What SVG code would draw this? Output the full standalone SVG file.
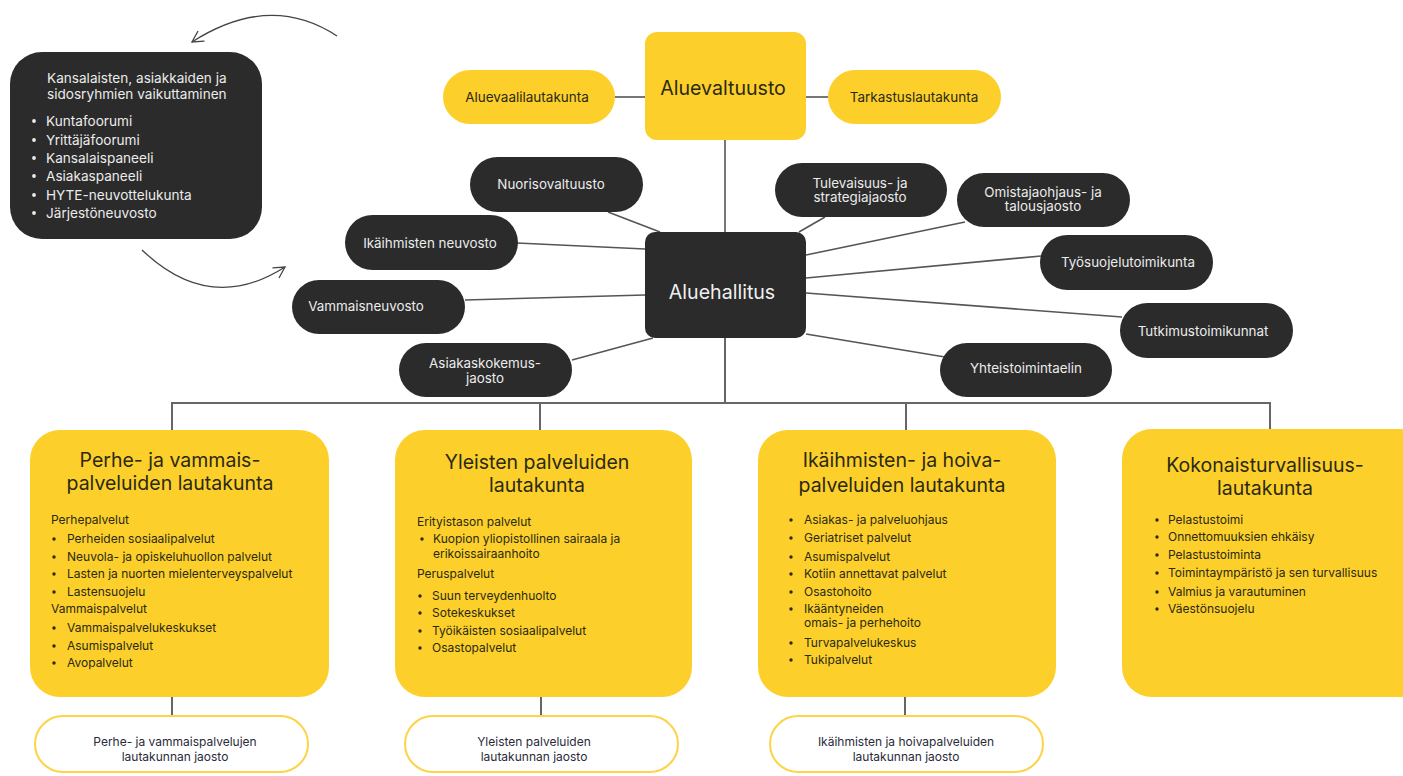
<svg xmlns="http://www.w3.org/2000/svg" width="1403" height="776" viewBox="0 0 1403 776">
<style>
.bg{fill:#ffffff}
.dark{fill:#2b2b2b}
.yel{fill:#fdcf2a}
.outl{fill:#ffffff;stroke:#fdd34a;stroke-width:2}
.lt{font-family:Inter,"Noto Sans","Liberation Sans",sans-serif;fill:#ececec;font-size:13.6px}
.ltc{font-family:Inter,"Noto Sans","Liberation Sans",sans-serif;fill:#ececec;font-size:13.4px;text-anchor:middle}
.dk{font-family:Inter,"Noto Sans","Liberation Sans",sans-serif;fill:#2a2a14;font-size:13.5px;text-anchor:middle}
.big{font-family:Inter,"Noto Sans","Liberation Sans",sans-serif;font-size:19.6px;text-anchor:middle}
.ttl{font-family:Inter,"Noto Sans","Liberation Sans",sans-serif;fill:#2a2a14;font-size:19.5px;text-anchor:middle}
.body{font-family:Inter,"Noto Sans","Liberation Sans",sans-serif;fill:#2a2a14;font-size:12px}
.sm{font-family:Inter,"Noto Sans","Liberation Sans",sans-serif;fill:#2a2a3a;font-size:12px;text-anchor:middle}
.ln{stroke:#555555;stroke-width:1.6;fill:none}
.bus{stroke:#666666;stroke-width:2;fill:none}
.arc{stroke:#444444;stroke-width:1.3;fill:none}
</style>
<defs>
<marker id="chev" viewBox="0 0 14 14" refX="12" refY="7" markerWidth="14" markerHeight="14" markerUnits="userSpaceOnUse" orient="auto">
<path d="M1,1 L12,7 L1,13" fill="none" stroke="#444444" stroke-width="1.3"/>
</marker>
</defs>
<rect class="bg" x="0" y="0" width="1403" height="776"/>

<g id="connectors">
<path class="arc" d="M337,36 Q270,-8 192,42" marker-end="url(#chev)"/>
<path class="arc" d="M142,250 Q210,315 285,267" marker-end="url(#chev)"/>
<line class="ln" x1="615" y1="97" x2="645" y2="97"/>
<line class="ln" x1="806" y1="97" x2="828" y2="97"/>
<line class="ln" x1="725" y1="140" x2="725" y2="232"/>
<line class="ln" x1="608" y1="212" x2="660" y2="232"/>
<line class="ln" x1="517" y1="243" x2="645" y2="249"/>
<line class="ln" x1="465" y1="300" x2="645" y2="295"/>
<line class="ln" x1="572" y1="360" x2="653" y2="338"/>
<line class="ln" x1="825" y1="217" x2="799" y2="232"/>
<line class="ln" x1="965" y1="222" x2="806" y2="255"/>
<line class="ln" x1="1041" y1="256" x2="806" y2="278"/>
<line class="ln" x1="1122" y1="317" x2="806" y2="293"/>
<line class="ln" x1="945" y1="357" x2="806" y2="334"/>
<line class="bus" x1="725" y1="338" x2="725" y2="403"/>
<path class="bus" d="M172,430 V403 H1270 V430"/>
<line class="bus" x1="540" y1="403" x2="540" y2="430"/>
<line class="bus" x1="906" y1="403" x2="906" y2="430"/>
<line class="bus" x1="172" y1="697" x2="172" y2="716"/>
<line class="bus" x1="541" y1="697" x2="541" y2="716"/>
<line class="bus" x1="905" y1="697" x2="905" y2="716"/>
</g>

<g id="vaikuttaminen">
<rect class="dark" x="10" y="52" width="252" height="187" rx="32"/>
<text class="lt" x="47" y="83">Kansalaisten, asiakkaiden ja</text>
<text class="lt" x="47" y="99">sidosryhmien vaikuttaminen</text>
<circle cx="34" cy="121" r="1.9" fill="#ececec"/><text class="lt" x="46" y="126">Kuntafoorumi</text>
<circle cx="34" cy="140" r="1.9" fill="#ececec"/><text class="lt" x="46" y="145">Yrittäjäfoorumi</text>
<circle cx="34" cy="158" r="1.9" fill="#ececec"/><text class="lt" x="46" y="163">Kansalaispaneeli</text>
<circle cx="34" cy="176" r="1.9" fill="#ececec"/><text class="lt" x="46" y="181">Asiakaspaneeli</text>
<circle cx="34" cy="195" r="1.9" fill="#ececec"/><text class="lt" x="46" y="200">HYTE-neuvottelukunta</text>
<circle cx="34" cy="213" r="1.9" fill="#ececec"/><text class="lt" x="46" y="218">Järjestöneuvosto</text>
</g>

<g id="aluevaltuusto">
<rect class="yel" x="645" y="32" width="161" height="108" rx="12"/>
<text class="big" x="723" y="95" fill="#2a2a14">Aluevaltuusto</text>
</g>
<g id="aluevaalilautakunta">
<rect class="yel" x="443" y="70" width="172" height="54" rx="27"/>
<text class="dk" x="527" y="102">Aluevaalilautakunta</text>
</g>
<g id="tarkastuslautakunta">
<rect class="yel" x="828" y="70" width="173" height="54" rx="27"/>
<text class="dk" x="914" y="102">Tarkastuslautakunta</text>
</g>

<g id="aluehallitus">
<rect class="dark" x="645" y="232" width="161" height="106" rx="10"/>
<text class="big" x="722" y="299" fill="#f0f0f0">Aluehallitus</text>
</g>
<g id="nuorisovaltuusto">
<rect class="dark" x="470" y="157" width="173" height="55" rx="27.5"/>
<text class="ltc" x="551" y="189">Nuorisovaltuusto</text>
</g>
<g id="ikaihmisten-neuvosto">
<rect class="dark" x="345" y="215" width="173" height="55" rx="27.5"/>
<text class="ltc" x="430" y="248">Ikäihmisten neuvosto</text>
</g>
<g id="vammaisneuvosto">
<rect class="dark" x="292" y="280" width="173" height="54" rx="27"/>
<text class="ltc" x="366" y="311">Vammaisneuvosto</text>
</g>
<g id="asiakaskokemusjaosto">
<rect class="dark" x="399" y="343" width="173" height="54" rx="27"/>
<text class="ltc" x="485" y="368">Asiakaskokemus-</text>
<text class="ltc" x="485" y="383">jaosto</text>
</g>
<g id="tulevaisuusjaosto">
<rect class="dark" x="775" y="163" width="172" height="54" rx="27"/>
<text class="ltc" x="860" y="188">Tulevaisuus- ja</text>
<text class="ltc" x="860" y="202">strategiajaosto</text>
</g>
<g id="omistajaohjausjaosto">
<rect class="dark" x="957" y="173" width="173" height="54" rx="27"/>
<text class="ltc" x="1043" y="197">Omistajaohjaus- ja</text>
<text class="ltc" x="1043" y="211">talousjaosto</text>
</g>
<g id="tyosuojelutoimikunta">
<rect class="dark" x="1040" y="235" width="173" height="55" rx="27.5"/>
<text class="ltc" x="1128" y="267">Työsuojelutoimikunta</text>
</g>
<g id="tutkimustoimikunnat">
<rect class="dark" x="1120" y="303" width="173" height="55" rx="27.5"/>
<text class="ltc" x="1203" y="336">Tutkimustoimikunnat</text>
</g>
<g id="yhteistoimintaelin">
<rect class="dark" x="940" y="343" width="172" height="54" rx="27"/>
<text class="ltc" x="1026" y="373">Yhteistoimintaelin</text>
</g>

<g id="perhe-lautakunta">
<rect class="yel" x="30" y="430" width="299" height="267" rx="30"/>
<text class="ttl" x="170" y="467">Perhe- ja vammais-</text>
<text class="ttl" x="170" y="490">palveluiden lautakunta</text>
<text class="body" x="51" y="524">Perhepalvelut</text>
<circle cx="54" cy="539" r="1.7" fill="#2a2a14"/><text class="body" x="67" y="543">Perheiden sosiaalipalvelut</text>
<circle cx="54" cy="557" r="1.7" fill="#2a2a14"/><text class="body" x="67" y="561">Neuvola- ja opiskeluhuollon palvelut</text>
<circle cx="54" cy="574" r="1.7" fill="#2a2a14"/><text class="body" x="67" y="578">Lasten ja nuorten mielenterveyspalvelut</text>
<circle cx="54" cy="592" r="1.7" fill="#2a2a14"/><text class="body" x="67" y="596">Lastensuojelu</text>
<text class="body" x="51" y="613">Vammaispalvelut</text>
<circle cx="54" cy="628" r="1.7" fill="#2a2a14"/><text class="body" x="67" y="632">Vammaispalvelukeskukset</text>
<circle cx="54" cy="646" r="1.7" fill="#2a2a14"/><text class="body" x="67" y="650">Asumispalvelut</text>
<circle cx="54" cy="663" r="1.7" fill="#2a2a14"/><text class="body" x="67" y="667">Avopalvelut</text>
</g>
<g id="yleisten-lautakunta">
<rect class="yel" x="395" y="430" width="297" height="267" rx="30"/>
<text class="ttl" x="537" y="469">Yleisten palveluiden</text>
<text class="ttl" x="537" y="492">lautakunta</text>
<text class="body" x="417" y="526">Erityistason palvelut</text>
<circle cx="422" cy="539" r="1.7" fill="#2a2a14"/><text class="body" x="433" y="543">Kuopion yliopistollinen sairaala ja</text>
<text class="body" x="433" y="558">erikoissairaanhoito</text>
<text class="body" x="417" y="578">Peruspalvelut</text>
<circle cx="420" cy="596" r="1.7" fill="#2a2a14"/><text class="body" x="432" y="600">Suun terveydenhuolto</text>
<circle cx="420" cy="613" r="1.7" fill="#2a2a14"/><text class="body" x="432" y="617">Sotekeskukset</text>
<circle cx="420" cy="631" r="1.7" fill="#2a2a14"/><text class="body" x="432" y="635">Työikäisten sosiaalipalvelut</text>
<circle cx="420" cy="648" r="1.7" fill="#2a2a14"/><text class="body" x="432" y="652">Osastopalvelut</text>
</g>
<g id="ikaihmisten-lautakunta">
<rect class="yel" x="758" y="430" width="298" height="267" rx="30"/>
<text class="ttl" x="902" y="467">Ikäihmisten- ja hoiva-</text>
<text class="ttl" x="902" y="492">palveluiden lautakunta</text>
<circle cx="791" cy="520" r="1.7" fill="#2a2a14"/><text class="body" x="804" y="524">Asiakas- ja palveluohjaus</text>
<circle cx="791" cy="538" r="1.7" fill="#2a2a14"/><text class="body" x="804" y="542">Geriatriset palvelut</text>
<circle cx="791" cy="557" r="1.7" fill="#2a2a14"/><text class="body" x="804" y="561">Asumispalvelut</text>
<circle cx="791" cy="574" r="1.7" fill="#2a2a14"/><text class="body" x="804" y="578">Kotiin annettavat palvelut</text>
<circle cx="791" cy="592" r="1.7" fill="#2a2a14"/><text class="body" x="804" y="596">Osastohoito</text>
<circle cx="791" cy="609" r="1.7" fill="#2a2a14"/><text class="body" x="804" y="613">Ikääntyneiden</text>
<text class="body" x="804" y="627">omais- ja perhehoito</text>
<circle cx="791" cy="643" r="1.7" fill="#2a2a14"/><text class="body" x="804" y="647">Turvapalvelukeskus</text>
<circle cx="791" cy="660" r="1.7" fill="#2a2a14"/><text class="body" x="804" y="664">Tukipalvelut</text>
</g>
<g id="kokonaisturvallisuus-lautakunta">
<rect class="yel" x="1122" y="429" width="311" height="268" rx="30"/>
<text class="ttl" x="1265" y="472">Kokonaisturvallisuus-</text>
<text class="ttl" x="1265" y="495">lautakunta</text>
<circle cx="1157" cy="520" r="1.7" fill="#2a2a14"/><text class="body" x="1168" y="524">Pelastustoimi</text>
<circle cx="1157" cy="537" r="1.7" fill="#2a2a14"/><text class="body" x="1168" y="541">Onnettomuuksien ehkäisy</text>
<circle cx="1157" cy="555" r="1.7" fill="#2a2a14"/><text class="body" x="1168" y="559">Pelastustoiminta</text>
<circle cx="1157" cy="573" r="1.7" fill="#2a2a14"/><text class="body" x="1168" y="577">Toimintaympäristö ja sen turvallisuus</text>
<circle cx="1157" cy="592" r="1.7" fill="#2a2a14"/><text class="body" x="1168" y="596">Valmius ja varautuminen</text>
<circle cx="1157" cy="609" r="1.7" fill="#2a2a14"/><text class="body" x="1168" y="613">Väestönsuojelu</text>
</g>

<g id="perhe-jaosto">
<rect class="outl" x="35" y="716" width="273" height="56" rx="28"/>
<text class="sm" x="175" y="746">Perhe- ja vammaispalvelujen</text>
<text class="sm" x="175" y="761">lautakunnan jaosto</text>
</g>
<g id="yleisten-jaosto">
<rect class="outl" x="405" y="716" width="273" height="56" rx="28"/>
<text class="sm" x="534" y="746">Yleisten palveluiden</text>
<text class="sm" x="534" y="761">lautakunnan jaosto</text>
</g>
<g id="ikaihmisten-jaosto">
<rect class="outl" x="770" y="716" width="273" height="56" rx="28"/>
<text class="sm" x="906" y="746">Ikäihmisten ja hoivapalveluiden</text>
<text class="sm" x="906" y="761">lautakunnan jaosto</text>
</g>
</svg>
